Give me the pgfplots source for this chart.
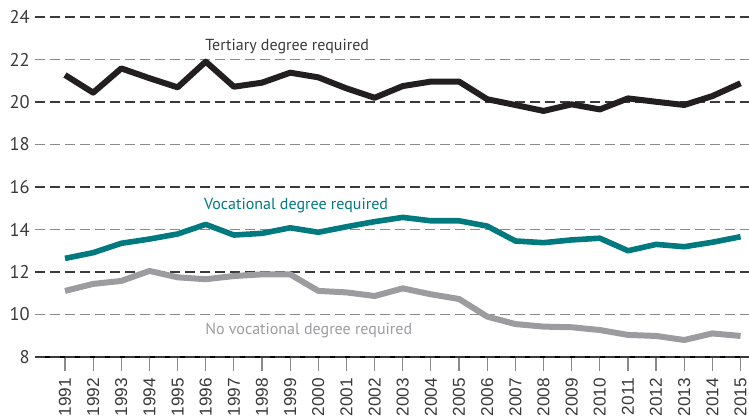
\documentclass[border=0pt]{standalone}
\usepackage{fontspec}
\setmainfont{PT Sans}
\newfontfamily\tickfont{Liberation Sans}
\usepackage{pgfplots}
\pgfplotsset{compat=1.18}
\definecolor{tertiary}{HTML}{231F20}
\definecolor{vocational}{HTML}{007A7E}
\definecolor{novoc}{HTML}{9C9CA0}
\definecolor{gridlight}{HTML}{8A8A8A}
\definecolor{griddark}{HTML}{3A3A3A}
\definecolor{labelink}{HTML}{3A3A3A}

\pgfplotstableread{
year tertiary vocational novoc
1991 21.27 12.64 11.11
1992 20.44 12.91 11.44
1993 21.58 13.35 11.58
1994 21.12 13.55 12.05
1995 20.69 13.79 11.75
1996 21.90 14.24 11.66
1997 20.72 13.74 11.81
1998 20.91 13.82 11.89
1999 21.38 14.08 11.89
2000 21.16 13.87 11.11
2001 20.64 14.13 11.04
2002 20.20 14.37 10.87
2003 20.75 14.57 11.23
2004 20.96 14.41 10.95
2005 20.96 14.41 10.73
2006 20.13 14.16 9.90
2007 19.86 13.46 9.55
2008 19.58 13.38 9.43
2009 19.89 13.51 9.40
2010 19.65 13.59 9.27
2011 20.17 13.00 9.04
2012 20.01 13.30 8.99
2013 19.86 13.19 8.80
2014 20.28 13.40 9.11
2015 20.88 13.66 8.99
}\skills

\begin{document}
\begin{tikzpicture}
\path[use as bounding box] (0,0) rectangle (374.5pt,209.5pt);
\begin{axis}[
    at={(17.5pt,31pt)}, anchor=south west,
    scale only axis,
    width=357pt, height=170pt,
    xmin=1989.934, xmax=2015.30,
    ymin=8, ymax=24,
    clip=false,
    axis x line*=bottom,
    axis y line*=left,
    x axis line style={-, black, line width=0.6pt},
    y axis line style={draw=none},
    xtick={1991,...,2015},
    xticklabel style={rotate=90, anchor=east, font=\tickfont\fontsize{8.6}{9}\selectfont, text=labelink},
    xtick style={draw=gridlight, line width=0.6pt},
    tick align=outside,
    major tick length=7pt,
    /pgf/number format/1000 sep={},
    /pgf/number format/assume math mode=true,
    ytick={10,14,18,22},
    ymajorgrids=true,
    grid style={gridlight, line width=0.75pt, dash pattern=on 5pt off 2.5pt},
    extra y ticks={8,12,16,20,24},
    extra y tick style={grid style={griddark, line width=0.75pt, dash pattern=on 5pt off 2.5pt}},
    ytick style={draw=none},
    yticklabel style={font=\fontsize{9.2}{10}\selectfont, text=labelink, xshift=7pt, inner sep=2.5pt},
    every axis plot/.append style={line join=round, line cap=butt},
]
\addplot[novoc, line width=3pt] table[x=year, y=novoc] {\skills};
\addplot[vocational, line width=2.8pt] table[x=year, y=vocational] {\skills};
\addplot[tertiary, line width=3pt] table[x=year, y=tertiary] {\skills};
\node[anchor=west, inner sep=0pt, text=labelink, font=\fontsize{8}{9}\selectfont] at (axis cs:1995.97,22.59) {Tertiary degree required};
\node[anchor=west, inner sep=0pt, text=vocational, font=\fontsize{8}{9}\selectfont] at (axis cs:1995.93,15.15) {Vocational degree required};
\node[anchor=west, inner sep=0pt, text=novoc, font=\fontsize{8}{9}\selectfont] at (axis cs:1995.97,9.27) {No vocational degree required};
\end{axis}
\end{tikzpicture}
\end{document}
